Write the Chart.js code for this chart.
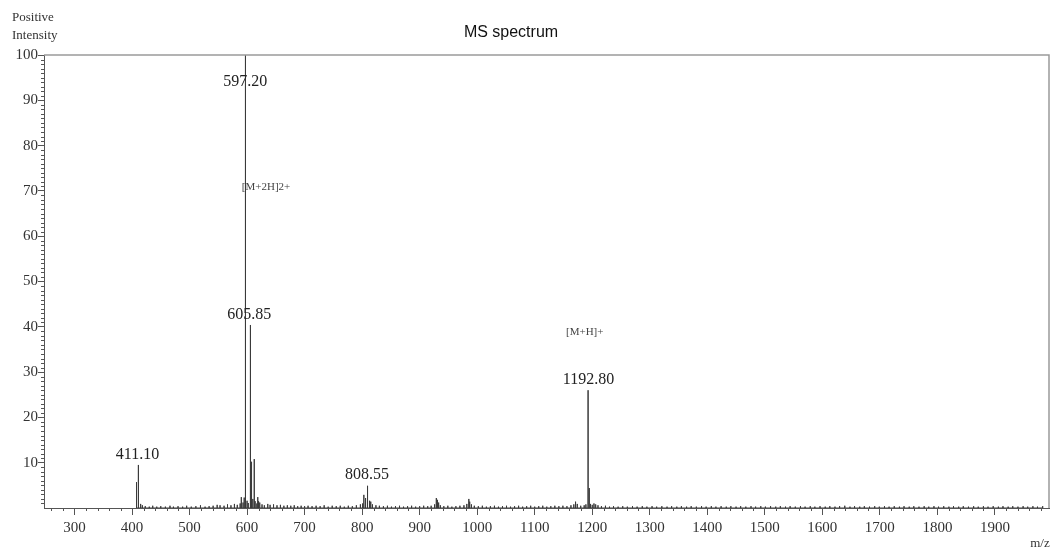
<!DOCTYPE html>
<html>
<head>
<meta charset="utf-8">
<script src="https://cdn.jsdelivr.net/npm/chart.js@4.4.1/dist/chart.umd.min.js"></script>
<style>
  html, body { margin: 0; padding: 0; background: #fff; }
  canvas { display: block; }
</style>
</head>
<body>
<canvas id="ms" width="1053" height="551"></canvas>
<script>
// axis ticks
const xTicks = [300, 400, 500, 600, 700, 800, 900, 1000, 1100, 1200, 1300, 1400, 1500, 1600, 1700, 1800, 1900];
const yTicks = [10, 20, 30, 40, 50, 60, 70, 80, 90, 100];

// labelled peaks (m/z, relative intensity)
const peakMz  = [407.8, 411.1, 597.2, 605.85, 606.9, 612.5, 808.55, 1192.8];
const peakInt = [5.7, 9.5, 100, 40.4, 10.2, 10.8, 4.9, 26.0];

// small peaks and baseline noise [m/z, intensity]
const minorPeaks = [
  [415, 0.9], [418, 0.6], [423, 0.4], [430, 0.3], [436, 0.5], [443, 0.3], [450, 0.4], [458, 0.3],
  [466, 0.5], [472, 0.3], [480, 0.4], [488, 0.3], [495, 0.5], [503, 0.3], [511, 0.4], [519, 0.6],
  [527, 0.3], [534, 0.4], [541, 0.5], [548, 0.7], [553, 0.6], [560, 0.5], [566, 0.8], [572, 0.6],
  [578, 0.9], [583, 0.7], [588, 1.0], [590, 2.4], [593, 1.2], [595, 2.3], [600, 1.6], [602, 1.1],
  [607.6, 9.0], [608.5, 4.8], [610, 2.0], [614, 1.5], [617, 1.0], [618.6, 2.4], [620, 1.5],
  [622, 1.2], [626, 0.8], [630, 0.6], [636, 0.9], [640, 0.7], [646, 0.8], [652, 0.6], [658, 0.7],
  [664, 0.5], [670, 0.6], [676, 0.5], [682, 0.6], [688, 0.4], [694, 0.5], [700, 0.4], [706, 0.5],
  [713, 0.4], [720, 0.5], [727, 0.4], [734, 0.6], [741, 0.3], [748, 0.5], [755, 0.4], [762, 0.5],
  [769, 0.3], [776, 0.5], [783, 0.4], [790, 0.6], [797, 0.8], [801, 1.0], [803, 2.9], [806, 2.2],
  [810, 1.2], [813, 1.6], [815, 1.4], [818, 0.8], [824, 0.6], [830, 0.5], [837, 0.4], [844, 0.5],
  [851, 0.3], [858, 0.4], [865, 0.5], [872, 0.3], [879, 0.4], [886, 0.5], [893, 0.3], [900, 0.4],
  [907, 0.5], [914, 0.4], [920, 0.5], [926, 0.8], [929, 2.2], [931, 1.8], [933, 1.2], [936, 0.6],
  [942, 0.4], [949, 0.5], [956, 0.3], [963, 0.4], [970, 0.5], [977, 0.6], [982, 0.9], [985.5, 2.0],
  [987, 1.4], [990, 0.8], [995, 0.5], [1002, 0.4], [1009, 0.5], [1016, 0.3], [1023, 0.4], [1030, 0.5],
  [1037, 0.3], [1044, 0.4], [1051, 0.5], [1058, 0.3], [1065, 0.4], [1072, 0.5], [1079, 0.3], [1086, 0.4],
  [1093, 0.5], [1100, 0.3], [1107, 0.4], [1114, 0.5], [1121, 0.3], [1128, 0.4], [1135, 0.5], [1142, 0.4],
  [1149, 0.5], [1156, 0.4], [1163, 0.6], [1168, 0.8], [1171, 1.4], [1174, 0.9], [1180, 0.5], [1186, 0.6],
  [1189, 0.8], [1194.8, 4.4], [1197, 0.9], [1200, 0.7], [1203, 1.0], [1206, 0.8], [1210, 0.6], [1216, 0.4],
  [1223, 0.5], [1230, 0.3], [1237, 0.4], [1245, 0.3], [1253, 0.4], [1261, 0.3], [1270, 0.4], [1278, 0.3],
  [1287, 0.4], [1295, 0.3], [1304, 0.4], [1312, 0.3], [1321, 0.4], [1330, 0.3], [1338, 0.4], [1347, 0.3],
  [1355, 0.4], [1364, 0.3], [1372, 0.4], [1381, 0.3], [1390, 0.4], [1398, 0.3], [1407, 0.4], [1415, 0.3],
  [1424, 0.4], [1433, 0.3], [1441, 0.4], [1450, 0.3], [1458, 0.4], [1467, 0.3], [1476, 0.4], [1484, 0.3],
  [1493, 0.4], [1501, 0.3], [1510, 0.4], [1519, 0.3], [1527, 0.4], [1536, 0.3], [1544, 0.4], [1553, 0.3],
  [1562, 0.4], [1570, 0.3], [1579, 0.4], [1587, 0.3], [1596, 0.4], [1605, 0.3], [1613, 0.4], [1622, 0.3],
  [1630, 0.4], [1639, 0.5], [1648, 0.3], [1656, 0.4], [1665, 0.3], [1673, 0.4], [1682, 0.3], [1691, 0.4],
  [1699, 0.3], [1708, 0.4], [1716, 0.3], [1725, 0.4], [1734, 0.3], [1742, 0.4], [1751, 0.3], [1759, 0.4],
  [1768, 0.3], [1777, 0.4], [1785, 0.3], [1794, 0.4], [1802, 0.3], [1811, 0.4], [1820, 0.3], [1828, 0.4],
  [1837, 0.3], [1845, 0.4], [1854, 0.3], [1863, 0.4], [1871, 0.3], [1880, 0.4], [1888, 0.3], [1897, 0.4],
  [1906, 0.3], [1914, 0.4], [1923, 0.3], [1931, 0.4], [1940, 0.3], [1949, 0.4], [1957, 0.3], [1966, 0.4],
  [1974, 0.3], [1983, 0.4]
];

// peak annotations, placed in data coordinates
const annoText = ['597.20', '[M+2H]2+', '605.85', '411.10', '808.55', '[M+H]+', '1192.80'];
const annoMz   = [597, 633, 604, 409.5, 808.4, 1187, 1193.5];
const annoInt  = [94.0, 70.9, 42.6, 11.7, 7.3, 38.9, 28.3];
const annoSize = [16, 11, 16, 16, 16, 11, 16];

const sticks = [];
peakMz.forEach((m, i) => sticks.push([m, peakInt[i]]));
minorPeaks.forEach(p => sticks.push(p));
sticks.sort((a, b) => a[0] - b[0]);

const pts = [];
sticks.forEach(s => {
  pts.push({ x: s[0], y: 0 });
  pts.push({ x: s[0], y: s[1] });
  pts.push({ x: s[0], y: 0 });
});

const serif = '"Liberation Serif", "DejaVu Serif", serif';

const decorPlugin = {
  id: 'decor',
  afterDraw(chart) {
    const ctx = chart.ctx;
    const area = chart.chartArea;
    const xs = chart.scales.x;
    const ys = chart.scales.y;
    ctx.save();

    // frame top / right
    ctx.strokeStyle = '#9a9a9a';
    ctx.lineWidth = 1.5;
    ctx.beginPath();
    ctx.moveTo(area.left, area.top);
    ctx.lineTo(area.right, area.top);
    ctx.lineTo(area.right, area.bottom);
    ctx.stroke();

    // minor ticks
    ctx.strokeStyle = '#555';
    ctx.lineWidth = 1;
    ctx.beginPath();
    for (let v = 260; v < 1994; v += 20) {
      if (v % 100 === 0) continue;
      const px = Math.round(xs.getPixelForValue(v)) + 0.5;
      ctx.moveTo(px, area.bottom);
      ctx.lineTo(px, area.bottom + 3);
    }
    for (let v = 1; v < 100; v++) {
      if (v % 10 === 0) continue;
      const py = Math.round(ys.getPixelForValue(v)) + 0.5;
      ctx.moveTo(area.left, py);
      ctx.lineTo(area.left - 3, py);
    }
    ctx.stroke();

    // titles
    ctx.fillStyle = '#111';
    ctx.textBaseline = 'middle';
    ctx.textAlign = 'center';
    ctx.font = '16px "Liberation Sans", Arial, sans-serif';
    ctx.fillText('MS spectrum', 511, 33);

    ctx.fillStyle = '#333';
    ctx.textAlign = 'left';
    ctx.font = '13px ' + serif;
    ctx.fillText('Positive', 12, 18);
    ctx.fillText('Intensity', 12, 36);
    ctx.textAlign = 'center';
    ctx.fillText('m/z', 1040, 544);

    // peak annotations
    annoText.forEach((t, i) => {
      ctx.font = annoSize[i] + 'px ' + serif;
      ctx.fillStyle = annoSize[i] > 12 ? '#222' : '#444';
      ctx.fillText(t, xs.getPixelForValue(annoMz[i]), ys.getPixelForValue(annoInt[i]));
    });
    ctx.restore();
  }
};

new Chart(document.getElementById('ms'), {
  type: 'scatter',
  data: {
    datasets: [{
      data: pts,
      showLine: true,
      borderColor: '#3a3a3a',
      borderWidth: 1,
      pointRadius: 0,
      tension: 0
    }]
  },
  options: {
    responsive: false,
    animation: false,
    layout: { padding: { left: 0, top: 55, right: 4, bottom: 0 } },
    plugins: { legend: { display: false }, tooltip: { enabled: false } },
    scales: {
      x: {
        type: 'linear',
        min: 247,
        max: 1994,
        afterBuildTicks: s => { s.ticks = xTicks.map(v => ({ value: v })); },
        afterFit: s => { s.height = 43; },
        grid: { drawOnChartArea: false, tickLength: 7, color: '#555' },
        border: { color: '#555', width: 1 },
        ticks: {
          color: '#333', font: { family: serif, size: 15 }, padding: 4,
          maxRotation: 0, autoSkip: false, callback: v => String(v)
        }
      },
      y: {
        min: 0,
        max: 100,
        afterBuildTicks: s => { s.ticks = yTicks.map(v => ({ value: v })); },
        afterFit: s => { s.width = 44; },
        grid: { drawOnChartArea: false, tickLength: 6, color: '#555' },
        border: { color: '#555', width: 1 },
        ticks: { color: '#333', font: { family: serif, size: 15 }, padding: 0, autoSkip: false, callback: v => String(v) }
      }
    }
  },
  plugins: [decorPlugin]
});
</script>
</body>
</html>
